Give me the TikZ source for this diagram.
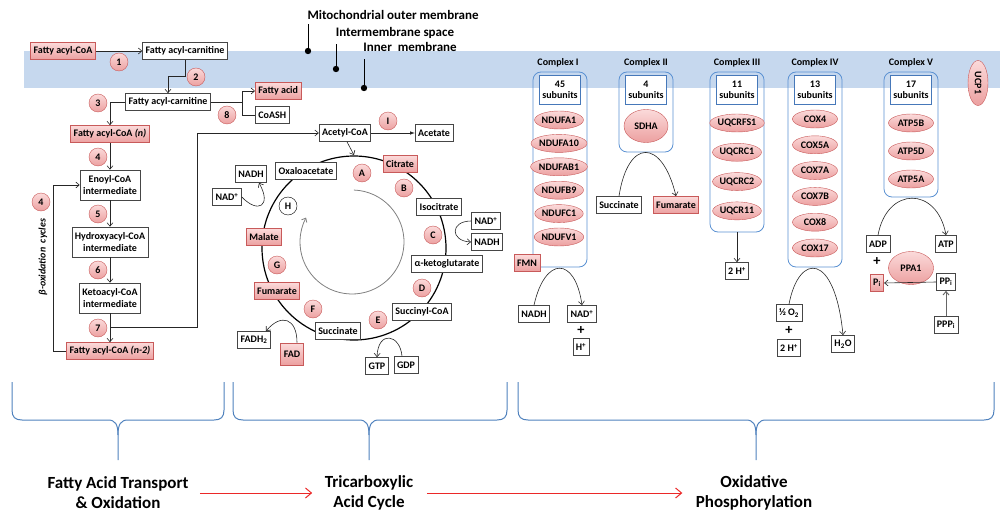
\documentclass[tikz,border=0pt]{standalone}
\usepackage{fontspec}
\setmainfont{Carlito}
\usepackage{tikz}
\usetikzlibrary{shapes,arrows,arrows.meta,positioning,calc}

\definecolor{membrane}{RGB}{198,216,238}
\definecolor{pinkline}{RGB}{200,90,90}
\definecolor{pinktop}{RGB}{251,218,218}
\definecolor{pinkbot}{RGB}{236,160,160}
\definecolor{cplxblue}{RGB}{90,145,210}
\definecolor{subblue}{RGB}{70,120,185}
\definecolor{braceblue}{RGB}{79,129,189}
\definecolor{phasered}{RGB}{235,40,40}
\definecolor{boxline}{RGB}{70,70,70}

\newcommand{\lbl}{\bfseries\fontsize{10}{11.5}\selectfont}
\newcommand{\memfont}{\bfseries\fontsize{13}{14}\selectfont}
\newcommand{\phasefont}{\bfseries\fontsize{17}{20}\selectfont}

\tikzset{
  plainbox/.style={draw=boxline, fill=white, line width=0.7pt, inner xsep=3pt, inner ysep=1pt, minimum height=17pt, font=\lbl},
  pinkbox/.style={plainbox, draw=pinkline, top color=pinktop, bottom color=pinkbot},
  twoline/.style={plainbox, align=center, minimum height=30pt},
  stepnum/.style={circle, draw=pinkline, top color=pinktop, bottom color=pinkbot, minimum size=18pt, inner sep=0pt, font=\lbl},
  subunit/.style={ellipse, draw=pinkline, top color=pinktop, bottom color=pinkbot, minimum width=48pt, minimum height=18pt, inner sep=0pt, font=\lbl},
  cplxbox/.style={draw=cplxblue, rounded corners=8pt, line width=0.8pt, minimum width=54pt, inner sep=0pt},
  countbox/.style={draw=subblue, line width=1pt, fill=white, minimum width=41pt, minimum height=29pt, inner sep=0pt, align=center, font=\lbl},
  link/.style={line width=0.6pt, black!85},
  plus/.style={font=\bfseries\Large, inner sep=0pt},
  pinline/.style={line width=1pt},
}

\begin{document}
\begin{tikzpicture}[x=1pt, y=-1pt, >={Straight Barb[length=3.5pt,width=6pt]}]
    \useasboundingbox (0,0) rectangle (1000,513);

    % Membrane band
    \fill[membrane] (24,51) rectangle (1000,88);

    % Membrane labels
    \node[font=\memfont] (outer) at (393,15) {Mitochondrial outer membrane};
    \node[font=\memfont] (inter) at (395,33) {Intermembrane space};
    \node[font=\memfont] (inner) at (410,47) {Inner\ \ membrane};
    \coordinate (dotO) at (308,51);
    \coordinate (dotI) at (336,69);
    \coordinate (dotN) at (364,88);
    \draw[pinline] ($(dotO |- outer.south)+(0,1)$) -- (dotO);
    \draw[pinline] ($(dotI |- inter.south)+(0,2)$) -- (dotI);
    \draw[pinline] ($(dotN |- inner.south)+(0,4)$) -- (dotN);
    \foreach \d in {dotO,dotI,dotN} {
        \fill (\d) circle[radius=3.2pt];
    }

    % Fatty acid transport
    \node[pinkbox] (facoa) at (63,51) {Fatty acyl-CoA};
    \node[plainbox] (carn1) at (185,51) {Fatty acyl-carnitine};
    \node[stepnum] (n1) at (119,62) {1};
    \draw[link,->] (facoa) -- (carn1);
    \node[stepnum] (n2) at (196,77) {2};
    \node[plainbox] (carn2) at (168,102) {Fatty acyl-carnitine};
    \draw[link,->] (carn1.south) -- ++(0,16) -| (carn2.north);
    \node[stepnum] (n3) at (98,103) {3};
    \node[pinkbox] (facoan) at (110,134) {Fatty acyl-CoA \textit{(n)}};
    \draw[link,->] (carn2.west) -| (facoan.north);

    % Carnitine split
    \node[pinkbox, anchor=west] (fatacid) at (255,91) {Fatty acid};
    \node[plainbox, anchor=west] (coash) at (255,115) {CoASH};
    \node[stepnum] (n8) at (227,115) {8};
    \coordinate (split) at (242,102);
    \draw[link] (carn2.east) -- (split);
    \draw[link,->] (split) |- (fatacid.west);
    \draw[link] (split) |- (coash.west);

    % Beta-oxidation
    \node[stepnum] (n4) at (98,157) {4};
    \node[twoline] (enoyl) at (110,185) {Enoyl-CoA\\intermediate};
    \node[stepnum] (n5) at (98,214) {5};
    \node[twoline] (hydroxy) at (110,242) {Hydroxyacyl-CoA\\intermediate};
    \node[stepnum] (n6) at (98,270) {6};
    \node[twoline] (keto) at (110,298) {Ketoacyl-CoA\\intermediate};
    \node[stepnum] (n7) at (98,328) {7};
    \node[pinkbox] (facoan2) at (110,351) {Fatty acyl-CoA \textit{(n-2)}};
    \draw[link,->] (facoan.south) -- (enoyl.north);
    \draw[link,->] (enoyl.south) -- (hydroxy.north);
    \draw[link,->] (hydroxy.south) -- (keto.north);
    \draw[link,->] (keto.south) -- (facoan2.north);
    \draw[link,->] (facoan2.west) -- ++(-13,0) |- (enoyl.west);
    \node[stepnum] (n4b) at (41,202) {4};
    \node[font=\lbl\itshape, rotate=90] (betaox) at (43,257) {β-oxidation\ \ cycles};

    % Acetyl-CoA
    \node[plainbox] (acetyl) at (345,133) {Acetyl-CoA};
    \node[stepnum] (nI) at (388,121) {I};
    \node[plainbox] (acetate) at (434,133) {Acetate};
    \draw[link,-latex] (acetyl) -- (acetate);
    \coordinate (branch) at ($(keto.south)!0.5!(facoan2.north)$);
    \draw[link,->] (branch) -- ++(87,0) |- (acetyl.west);

    % TCA cycle
    \coordinate (tca) at (354,248);
    \draw[line width=1.2pt] (tca) circle[radius=92pt];
    \draw[gray, line width=0.8pt, ->] ($(352,242)+(88:52pt)$) arc[start angle=88, end angle=-208, radius=52pt];
    \draw[link,->] ($(acetyl.south)+(2,0)$) -- ($(tca)+(90:93pt)$);

    \node[plainbox] (oxalo) at (306,171) {Oxaloacetate};
    \node[stepnum] (nA) at (362,173) {A};
    \node[pinkbox] (citrate) at (400,164) {Citrate};
    \node[stepnum] (nB) at (404,188) {B};
    \node[plainbox] (isocit) at (439,207) {Isocitrate};
    \node[plainbox] (nadR) at (486,221) {NAD\textsuperscript{+}};
    \node[plainbox] (nadhR) at (487,242) {NADH};
    \node[stepnum] (nC) at (433,235) {C};
    \node[plainbox] (akg) at (447,264) {α-ketoglutarate};
    \node[stepnum] (nD) at (422,288) {D};
    \node[plainbox] (succoa) at (422,312) {Succinyl-CoA};
    \node[stepnum] (nE) at (378,320) {E};
    \node[plainbox] (succ) at (338,331) {Succinate};
    \node[plainbox] (gtp) at (377,366) {GTP};
    \node[plainbox] (gdp) at (406,365) {GDP};
    \node[stepnum] (nF) at (313,309) {F};
    \node[pinkbox] (fum) at (277,291) {Fumarate};
    \node[plainbox] (fadh) at (254,340) {FADH\textsubscript{2}};
    \node[pinkbox, minimum height=22pt] (fad) at (292,354) {FAD};
    \node[stepnum] (nG) at (277,265) {G};
    \node[pinkbox] (malate) at (264,237) {Malate};
    \node[stepnum, shade=none, fill=white, draw=black] (nH) at (288,206) {H};
    \node[plainbox] (nadhL) at (251,174) {NADH};
    \node[plainbox] (nadL) at (227,197) {NAD\textsuperscript{+}};

    \draw[link,->] (nadR.west) .. controls (450,221) and (450,241) .. (nadhR.west);
    \draw[link,->] ($(gdp.north)+(-4,0)$) .. controls (400,334) and (378,330) .. (gtp.north);
    \draw[link,->] ($(fad.north)+(5,0)$) .. controls (297,318) and (281,313) .. ($(fadh.north)+(12,0)$);
    \draw[link,->] (nadL.east) .. controls (258,214) and (272,206) .. ($(nadhL.south)+(8,0)$);

    % Complex I
    \node[font=\lbl] (cI) at (558,63) {Complex I};
    \node[cplxbox, minimum height=195pt] (c1) at (560,169.5) {};
    \node[countbox] (s1) at (560,90) {45\\subunits};
    \foreach \g [count=\i] in {NDUFA1,NDUFA10,NDUFAB1,NDUFB9,NDUFC1,NDUFV1} {
        \node[subunit] (ndI-\i) at (559,{120+23.4*(\i-1)}) {\g};
    }
    \node[pinkbox] (fmn) at (527,263) {FMN};
    \node[plainbox] (nadh1) at (534,314) {NADH};
    \node[plainbox] (nad1) at (582,314) {NAD\textsuperscript{+}};
    \node[plus] (plus1) at (581,331) {+};
    \node[plainbox] (h1) at (581,347) {H\textsuperscript{+}};
    \draw[link,->] (nadh1.north) .. controls (545,256) and (575,256) .. (nad1.north);

    % Complex II
    \node[font=\lbl] (cII) at (646,63) {Complex II};
    \node[cplxbox, minimum height=80pt] (c2) at (646,112) {};
    \node[countbox] (s2) at (646,90) {4\\subunits};
    \node[subunit, minimum width=44pt, minimum height=33pt] (sdha) at (646,126) {SDHA};
    \node[plainbox] (succ2) at (619,205) {Succinate};
    \node[pinkbox] (fum2) at (676,205) {Fumarate};
    \draw[link,->] (succ2.north) .. controls (628,138) and (662,138) .. (fum2.north);

    % Complex III
    \node[font=\lbl] (cIII) at (737,63) {Complex III};
    \node[cplxbox, minimum height=160pt] (c3) at (737,152) {};
    \node[countbox] (s3) at (737,90) {11\\subunits};
    \foreach \g [count=\i] in {UQCRFS1,UQCRC1,UQCRC2,UQCR11} {
        \node[subunit] (uq-\i) at (737,{123+29.3*(\i-1)}) {\g};
    }
    \node[plainbox] (h3) at (737,271) {2 H\textsuperscript{+}};
    \draw[link,->] (c3.south) -- (h3.north);

    % Complex IV
    \node[font=\lbl] (cIV) at (815,63) {Complex IV};
    \node[cplxbox, minimum height=195pt] (c4) at (815,169.5) {};
    \node[countbox] (s4) at (815,90) {13\\subunits};
    \foreach \g [count=\i] in {COX4,COX5A,COX7A,COX7B,COX8,COX17} {
        \node[subunit, minimum width=45pt] (cox-\i) at (815,{119+25.8*(\i-1)}) {\g};
    }
    \node[plainbox] (o2) at (789,313) {½ O\textsubscript{2}};
    \node[plus] (plus4) at (789,331) {+};
    \node[plainbox] (h4) at (789,348) {2 H\textsuperscript{+}};
    \node[plainbox] (h2o) at (843,344) {H\textsubscript{2}O};
    \draw[link,->] (o2.north) .. controls (799,252) and (835,252) .. (h2o.north);

    % Complex V
    \node[font=\lbl] (cV) at (911,63) {Complex V};
    \node[cplxbox, minimum height=125pt] (c5) at (911,134.5) {};
    \node[countbox] (s5) at (911,90) {17\\subunits};
    \foreach \g [count=\i] in {ATP5B,ATP5D,ATP5A} {
        \node[subunit, minimum width=45pt] (atp-\i) at (911,{123+28*(\i-1)}) {\g};
    }
    \node[plainbox] (adp) at (878,244) {ADP};
    \node[plainbox] (atp) at (946,244) {ATP};
    \node[plus] (plus5) at (877,262) {+};
    \node[pinkbox] (pi) at (877,283) {P\textsubscript{i}};
    \node[subunit, minimum width=45pt, minimum height=33pt] (ppa) at (911,268) {PPA1};
    \node[plainbox] (ppi) at (946,282) {PP\textsubscript{i}};
    \node[plainbox] (pppi) at (946,325) {PPP\textsubscript{i}};
    \draw[link,->] (adp.north) .. controls (887,186) and (937,186) .. (atp.north);
    \draw[link,->] (ppi.west) -- (pi.east);
    \draw[line width=0.9pt, black!60, ->] (pppi.north) -- (ppi.south);

    % UCP1
    \node[subunit, minimum width=45pt, minimum height=20pt, rotate=-90] (ucp) at (978,83) {UCP1};

    % Braces
    \foreach \xa/\xm/\xb in {12/118/224, 233/369/507, 518/756/994} {
        \draw[braceblue, line width=1pt]
            (\xa,382) -- (\xa,410) .. controls (\xa,417) and (\xa+3,420) .. (\xa+10,420)
            -- (\xm-10,420) .. controls (\xm-3,420) and (\xm,424) .. (\xm,435) -- (\xm,460);
        \draw[braceblue, line width=1pt]
            (\xm,435) .. controls (\xm,424) and (\xm+3,420) .. (\xm+10,420)
            -- (\xb-10,420) .. controls (\xb-3,420) and (\xb,417) .. (\xb,410) -- (\xb,382);
    }

    % Phases
    \node[font=\phasefont, align=center] (ph1) at (118,493) {Fatty Acid Transport\\\& Oxidation};
    \node[font=\phasefont, align=center] (ph2) at (369,493) {Tricarboxylic\\Acid Cycle};
    \node[font=\phasefont, align=center] (ph3) at (754,493) {Oxidative\\Phosphorylation};
    \draw[phasered, line width=1pt, -{Straight Barb[length=6pt,width=10pt]}, shorten <=8pt, shorten >=9pt] (ph1.east) -- (ph2.west);
    \draw[phasered, line width=1pt, -{Straight Barb[length=6pt,width=10pt]}, shorten <=10pt, shorten >=10pt] (ph2.east) -- (ph3.west);
\end{tikzpicture}
\end{document}
